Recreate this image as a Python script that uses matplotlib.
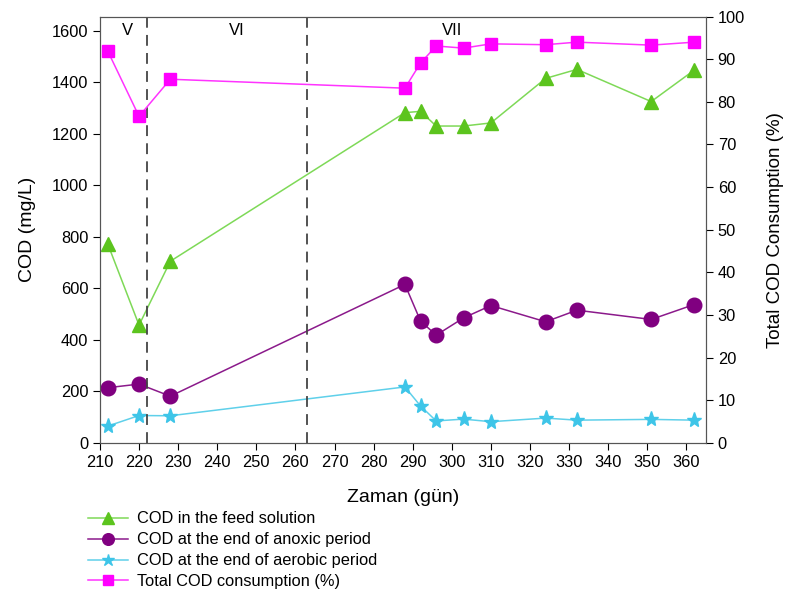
import matplotlib.pyplot as plt
import numpy as np

plt.rcParams['font.family'] = ['Liberation Sans', 'DejaVu Sans']

days = [212, 220, 228, 288, 292, 296, 303, 310, 324, 332, 351, 362]
cod_feed = [772, 457, 705, 1282, 1287, 1230, 1230, 1242, 1415, 1450, 1325, 1447]
cod_anoxic = [214, 228, 181, 615, 473, 418, 485, 533, 470, 515, 479, 537]
cod_aerobic = [65, 106, 105, 217, 143, 85, 92, 82, 96, 88, 91, 88]
total_consumption = [91.9, 76.6, 85.3, 83.2, 89.1, 93.1, 92.6, 93.6, 93.4, 94.0, 93.3, 94.0]

phase_bounds = [222, 263]
phase_names = ["V", "VI", "VII"]
phase_label_x = [217, 245, 300]

fig = plt.figure(figsize=(7.87, 5.92), dpi=100)
ax1 = fig.add_axes([0.127, 0.252, 0.770, 0.720])
ax2 = ax1.twinx()

l1, = ax1.plot(days, cod_feed, color="#7ED957", lw=1.1, marker="^", ms=10,
               mfc="#5CC41E", mec="#5CC41E", label="COD in the feed solution")
l2, = ax1.plot(days, cod_anoxic, color="#8B1A8B", lw=1.1, marker="o", ms=10.5,
               mfc="#800080", mec="#800080", label="COD at the end of anoxic period")
l3, = ax1.plot(days, cod_aerobic, color="#5FD0EA", lw=1.1, marker="*", ms=11,
               mfc="#3EC5E8", mec="#3EC5E8", label="COD at the end of aerobic period")
l4, = ax2.plot(days, total_consumption, color="#FF33FF", lw=1.1, marker="s", ms=9,
               mfc="#FF00FF", mec="#FF00FF", label="Total COD consumption (%)")

for b in phase_bounds:
    ax1.axvline(b, color="#444444", lw=1.3, ls=(0, (6, 4)))
for x, name in zip(phase_label_x, phase_names):
    ax1.text(x, 1600, name, ha="center", va="center", fontsize=12)

ax1.set_xlim(210, 365)
ax1.set_ylim(0, 1655)
ax2.set_ylim(0, 100)
ax1.set_xticks(np.arange(210, 361, 10))
ax1.set_yticks(np.arange(0, 1601, 200))
ax2.set_yticks(np.arange(0, 101, 10))

ax1.tick_params(labelsize=11.8, direction="out", length=5)
ax2.tick_params(labelsize=11.8, direction="out", length=5)
ax1.set_xlabel("Zaman (gün)", fontsize=14, labelpad=14)
ax1.set_ylabel("COD (mg/L)", fontsize=14, labelpad=11)
ax2.set_ylabel("Total COD Consumption (%)", fontsize=13.5, labelpad=16)

for ax in (ax1, ax2):
    for s in ax.spines.values():
        s.set_color("#555555")

fig.legend(handles=[l1, l2, l3, l4], loc="upper left",
           bbox_to_anchor=(0.112, 0.136), frameon=False, fontsize=11.8,
           handlelength=2.45, labelspacing=0.36, borderpad=0, borderaxespad=0,
           handletextpad=0.55, markerscale=0.8)

fig.savefig("out.png", dpi=100)
